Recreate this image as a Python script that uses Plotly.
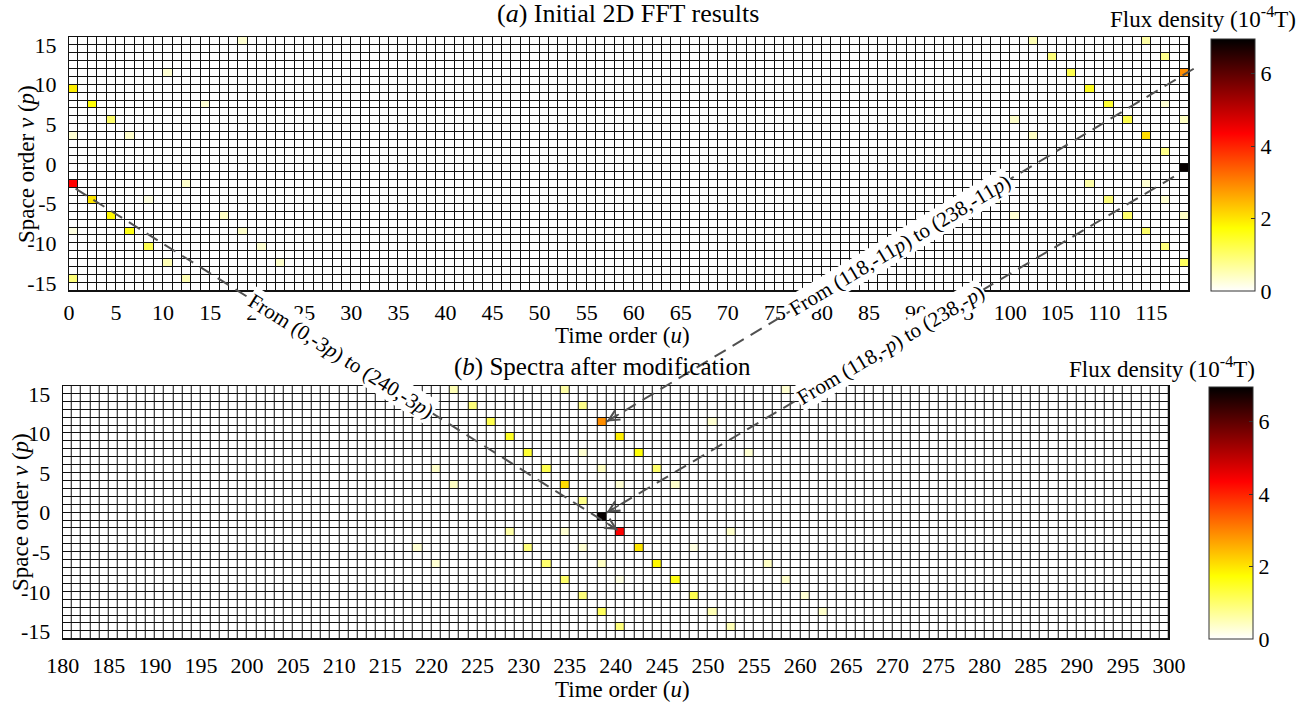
import math
import numpy as np
import plotly.graph_objects as go

FONT = "Liberation Serif, Times New Roman, serif"
W, H = 1306, 703

# ---------------- data: non-zero cells of panel (a) ----------------
a_u = [0, 2, 4, 0, 6, 0, 2, 4, 6, 8, 10, 12, 0, 12, 10, 14, 16, 18, 20, 22, 0, 18, 8,
       102, 104, 106, 108, 110, 112, 114, 116, 118, 118, 114, 116, 118, 100, 102,
       108, 110, 112, 114, 116, 118, 100, 118, 114, 116, 116, 98]
a_v = [9, 7, 5, 3, 3, -3, -5, -7, -9, -11, -13, -15, -15, -3, 11, 7, -7, -9, -11, -13, -9, 15, -5,
       15, 13, 11, 9, 7, 5, 3, 1, -1, 11, 15, 13, 5, 5, 3,
       -3, -5, -7, -9, -11, -13, -7, -7, -3, -5, 7, -5]
a_val = [1.9, 1.7, 1.0, 0.3, 0.35, 4.35, 2.0, 1.8, 1.6, 1.2, 0.5, 0.5, 0.9, 0.35, 0.3, 0.3, 0.4, 0.35, 0.3, 0.35, 0.2, 0.3, 0.2,
         0.5, 0.9, 1.2, 1.5, 1.4, 1.2, 2.1, 0.8, 6.9, 2.9, 0.6, 0.8, 0.4, 0.35, 0.4,
         0.6, 0.9, 1.0, 1.0, 0.9, 1.1, 0.3, 0.4, 0.3, 0.3, 0.3, 0.3]

# ---------------- data: non-zero cells of panel (b) ----------------
b_u = [222, 224, 226, 228, 230, 232, 234, 236, 238, 238, 234, 236, 238, 220, 222,
       228, 230, 232, 234, 236, 238, 220, 238, 234, 236, 236, 218,
       240, 242, 244, 240, 246, 240, 242, 244, 246, 248, 250, 252, 240, 252, 250,
       254, 256, 258, 260, 262, 240, 258, 248]
b_v = [15, 13, 11, 9, 7, 5, 3, 1, -1, 11, 15, 13, 5, 5, 3,
       -3, -5, -7, -9, -11, -13, -7, -7, -3, -5, 7, -5,
       9, 7, 5, 3, 3, -3, -5, -7, -9, -11, -13, -15, -15, -3, 11,
       7, -7, -9, -11, -13, -9, 15, -5]
b_val = [0.5, 0.9, 1.2, 1.5, 1.4, 1.2, 2.1, 0.8, 6.9, 2.9, 0.6, 0.8, 0.4, 0.35, 0.4,
         0.6, 0.9, 1.0, 1.0, 0.9, 1.1, 0.3, 0.4, 0.3, 0.3, 0.3, 0.3,
         1.9, 1.7, 1.0, 0.3, 0.35, 4.35, 2.0, 1.8, 1.6, 1.2, 0.5, 0.5, 0.9, 0.35, 0.3,
         0.3, 0.4, 0.35, 0.3, 0.35, 0.2, 0.3, 0.2]

A_URANGE = (0, 119)
B_URANGE = (180, 300)
V_RANGE = (-16, 16)

A_XTICKS = list(range(0, 116, 5))
B_XTICKS = list(range(180, 301, 5))
YTICKS = [-15, -10, -5, 0, 5, 10, 15]
CBAR_TICKS = [0, 2, 4, 6]
ZMAX = 6.96

# arrows: start in panel (a) data coords, end in panel (b) data coords
ARROW_FROM = [(0.7, -3.1), (119.5, 12.0), (117.4, -1.6)]
ARROW_TO = [(240.2, -2.2), (239.0, 11.5), (239.0, 0.0)]
ARROW_TEXT = ["From (0,-3<i>p</i>) to (240,-3<i>p</i>)",
              "From (118,-11<i>p</i>) to (238,-11<i>p</i>)",
              "From (118,-<i>p</i>) to (238,-<i>p</i>)"]
ARROW_TEXT_POS = [0.49, 0.5, 0.5]

# ---------------- layout geometry (pixels) ----------------
PA = dict(l=69, r=1189, t=37, b=291)
PB = dict(l=62.7, r=1169, t=386, b=639.3)


def grid(us, vs, vals, urange):
    ncol = urange[1] - urange[0]
    z = np.zeros((V_RANGE[1] - V_RANGE[0], ncol))
    for u, v, val in zip(us, vs, vals):
        z[v - V_RANGE[0], u - urange[0]] = val
    xc = [urange[0] + i + 0.5 for i in range(ncol)]
    yc = [V_RANGE[0] + j + 0.5 for j in range(V_RANGE[1] - V_RANGE[0])]
    return xc, yc, z


colorscale = [[0, "rgb(255,255,255)"], [0.25, "rgb(255,255,0)"],
              [0.625, "rgb(255,0,0)"], [1, "rgb(0,0,0)"]]


def cbar(x_px, top_px, bottom_px):
    return dict(x=x_px / W, xanchor="left", xpad=0,
                y=1 - top_px / H, yanchor="top", ypad=0,
                len=bottom_px - top_px, lenmode="pixels",
                thickness=44, thicknessmode="pixels",
                outlinewidth=1, outlinecolor="#333",
                tickvals=CBAR_TICKS, ticktext=[str(t) for t in CBAR_TICKS],
                ticks="inside", ticklen=4, tickcolor="#333",
                tickfont=dict(family=FONT, size=22, color="black"))


xa, ya, za = grid(a_u, a_v, a_val, A_URANGE)
xb, yb, zb = grid(b_u, b_v, b_val, B_URANGE)

fig = go.Figure()
fig.add_trace(go.Heatmap(x=xa, y=ya, z=za, xaxis="x", yaxis="y", zmin=0, zmax=ZMAX,
                         colorscale=colorscale, xgap=1, ygap=1, hoverinfo="skip",
                         colorbar=cbar(1211, 39, 291)))
fig.add_trace(go.Heatmap(x=xb, y=yb, z=zb, xaxis="x2", yaxis="y2", zmin=0, zmax=ZMAX,
                         colorscale=colorscale, xgap=1, ygap=1, hoverinfo="skip",
                         colorbar=cbar(1209, 387, 639)))

axc = dict(showgrid=False, zeroline=False, showline=True, mirror=True,
           linecolor="#111", linewidth=1, ticks="",
           tickfont=dict(family=FONT, size=22, color="black"), fixedrange=True)


def dom(p):
    return [p["l"] / W, p["r"] / W], [1 - p["b"] / H, 1 - p["t"] / H]


dxa, dya = dom(PA)
dxb, dyb = dom(PB)

fig.update_layout(
    width=W, height=H, paper_bgcolor="white", plot_bgcolor="#111",
    font=dict(family=FONT, size=22, color="black"),
    margin=dict(l=0, r=0, t=0, b=0, autoexpand=False),
    xaxis=dict(axc, domain=dxa, anchor="y", range=list(A_URANGE),
               tickvals=A_XTICKS, ticktext=[str(t) for t in A_XTICKS], ticklabelstandoff=2),
    yaxis=dict(axc, domain=dya, anchor="x", range=list(V_RANGE),
               tickvals=YTICKS, ticktext=[str(t) for t in YTICKS], ticklabelstandoff=7),
    xaxis2=dict(axc, domain=dxb, anchor="y2", range=list(B_URANGE),
                tickvals=B_XTICKS, ticktext=[str(t) for t in B_XTICKS], ticklabelstandoff=6),
    yaxis2=dict(axc, domain=dyb, anchor="x2", range=list(V_RANGE),
                tickvals=YTICKS, ticktext=[str(t) for t in YTICKS], ticklabelstandoff=7),
    showlegend=False,
)


def txt(x_px, y_px, text, size, xanchor="center", angle=0):
    fig.add_annotation(x=x_px / W, y=1 - y_px / H, xref="paper", yref="paper",
                       text=text, showarrow=False, xanchor=xanchor, yanchor="middle",
                       textangle=angle, font=dict(family=FONT, size=size, color="black"))


txt(628, 14, "(<i>a</i>) Initial 2D FFT results", 26)
txt(602, 367, "(<i>b</i>) Spectra after modification", 25)
txt(622, 335, "Time order (<i>u</i>)", 23)
txt(622, 689, "Time order (<i>u</i>)", 23)
txt(27, 164, "Space order <i>v</i> (<i>p</i>)", 23, angle=-90)
txt(20, 512, "Space order <i>v</i> (<i>p</i>)", 23, angle=-90)
txt(1298, 17, "Flux density (10<sup>-4</sup>T)", 23, xanchor="right")
txt(1257, 367, "Flux density (10<sup>-4</sup>T)", 23, xanchor="right")


def to_px(p, urange, u, v):
    px = p["l"] + (u - urange[0]) / (urange[1] - urange[0]) * (p["r"] - p["l"])
    py = p["t"] + (V_RANGE[1] - v) / (V_RANGE[1] - V_RANGE[0]) * (p["b"] - p["t"])
    return px, py


for (u0, v0), (u1, v1), label, tpos in zip(ARROW_FROM, ARROW_TO, ARROW_TEXT, ARROW_TEXT_POS):
    x0, y0 = to_px(PA, A_URANGE, u0, v0)
    x1, y1 = to_px(PB, B_URANGE, u1, v1)
    fig.add_shape(type="line", xref="paper", yref="paper",
                  x0=x0 / W, y0=1 - y0 / H, x1=x1 / W, y1=1 - y1 / H,
                  line=dict(color="#505050", width=2, dash="13px,8px"), layer="above")
    dx, dy = x1 - x0, y1 - y0
    L = math.hypot(dx, dy)
    ux, uy = dx / L, dy / L
    fig.add_annotation(x=x1 / W, y=1 - y1 / H, xref="paper", yref="paper",
                       ax=-ux * 16, ay=-uy * 16, axref="pixel", ayref="pixel",
                       text="", showarrow=True, arrowhead=5, arrowsize=1.4,
                       arrowwidth=1.5, arrowcolor="#505050")
    ang = math.degrees(math.atan2(dy, dx))
    if ang > 90:
        ang -= 180
    elif ang < -90:
        ang += 180
    xm, ym = x0 + dx * tpos, y0 + dy * tpos
    fig.add_annotation(x=xm / W, y=1 - ym / H, xref="paper", yref="paper",
                       text=label, showarrow=False, textangle=ang,
                       xanchor="center", yanchor="middle",
                       bgcolor="white", borderpad=1,
                       font=dict(family=FONT, size=21, color="black"))

fig.write_html("out.html")
